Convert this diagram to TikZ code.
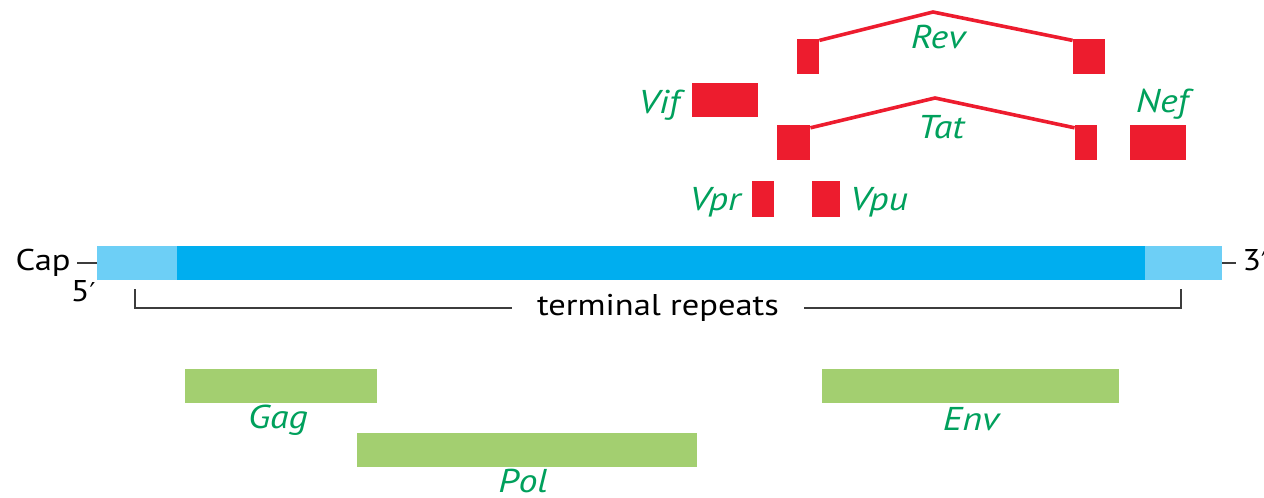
\documentclass[tikz,border=0pt]{standalone}
\usepackage{fontspec}
\setmainfont{PT Sans}[FakeStretch=1.15]
\newfontfamily\primefont{DejaVu Sans}
\usetikzlibrary{fit}
\definecolor{exonred}{RGB}{237,28,46}
\definecolor{genegreen}{RGB}{0,160,92}
\definecolor{barblue}{RGB}{0,174,239}
\definecolor{ltrblue}{RGB}{109,207,246}
\definecolor{orfgreen}{RGB}{163,207,112}
\definecolor{rulegray}{RGB}{60,60,60}
\newcommand{\primemark}{{\primefont\fontsize{13}{15}\selectfont ′}}
\begin{document}
\begin{tikzpicture}[x=0.5pt,y=-0.5pt,
  exon/.style={fill=exonred,draw=none,inner sep=0pt},
  orf/.style={fill=orfgreen,draw=none,inner sep=0pt},
  genome/.style={fill=barblue,draw=none,inner sep=0pt},
  ltr/.style={fill=ltrblue,draw=none,inner sep=0pt},
  gene/.style={text=genegreen,font=\fontsize{16.5}{19}\selectfont\itshape,inner sep=0pt,anchor=base},
  plain/.style={text=black,font=\fontsize{15}{18}\selectfont,inner sep=0pt},
  splice/.style={draw=exonred,line width=1.8pt,line join=round},
  tick/.style={draw=rulegray,line width=1.1pt}]
\useasboundingbox (0,0) rectangle (1264,498);

% RNA with its long terminal repeats
\node[ltr,fit={(97,246) (177,280)}] (ltrL) {};
\node[genome,fit={(177,246) (1145,280)}] (body) {};
\node[ltr,fit={(1145,246) (1222,280)}] (ltrR) {};

\node[plain,anchor=base east] (cap) at (71,270) {Cap};
\node[plain,anchor=base east] (five) at (96,301) {5\primemark};
\node[plain,anchor=base west] (three) at (1242,270) {3\primemark};
\coordinate (capend) at (77,263);
\coordinate (threeend) at (1236,263);
\draw[tick] (capend) -- (ltrL.west |- capend);
\draw[tick] (ltrR.east |- threeend) -- (threeend);

% bracket for the terminal repeats
\node[plain,anchor=base,inner xsep=12.5pt] (rep) at (658,315) {terminal repeats};
\coordinate (brL) at (135,289);
\coordinate (brR) at (1181,289);
\coordinate (brY) at (0,308);
\draw[tick] (brL) |- (rep.west |- brY);
\draw[tick] (brR) |- (rep.east |- brY);

% Rev exons and splice
\node[exon,fit={(797,39) (819,74)}] (revL) {};
\node[exon,fit={(1073,39) (1105,74)}] (revR) {};
\coordinate (revtop) at (933,12);
\draw[splice] ([yshift=-0.9pt]revL.north east) -- (revtop) -- ([yshift=-0.9pt]revR.north west);
\node[gene] (revlab) at (938,48) {Rev};

% Vif and Nef
\node[exon,fit={(692,83) (758,117)}] (vif) {};
\node[gene] (viflab) at (659,113) {Vif};
\node[exon,fit={(1130,125) (1186,160)}] (nef) {};
\node[gene] (neflab) at (1162,112) {Nef};

% Tat exons and splice
\node[exon,fit={(777,125) (810,160)}] (tatL) {};
\node[exon,fit={(1075,125) (1097,160)}] (tatR) {};
\coordinate (tattop) at (935,98);
\draw[splice] ([yshift=-1.6pt]tatL.north east) -- (tattop) -- ([yshift=-1.6pt]tatR.north west);
\node[gene] (tatlab) at (941,138) {Tat};

% Vpr and Vpu
\node[exon,fit={(752,181) (774,217)}] (vpr) {};
\node[gene] (vprlab) at (715,210) {Vpr};
\node[exon,fit={(812,181) (840,217)}] (vpu) {};
\node[gene] (vpulab) at (879,210) {Vpu};

% Gag, Pol, Env reading frames
\node[orf,fit={(185,369) (377,403)}] (gag) {};
\node[gene] (gaglab) at (278,428) {Gag};
\node[orf,fit={(357,433) (697,467)}] (pol) {};
\node[gene] (pollab) at (523,492) {Pol};
\node[orf,fit={(822,369) (1119,403)}] (env) {};
\node[gene] (envlab) at (971,430) {Env};
\end{tikzpicture}
\end{document}
